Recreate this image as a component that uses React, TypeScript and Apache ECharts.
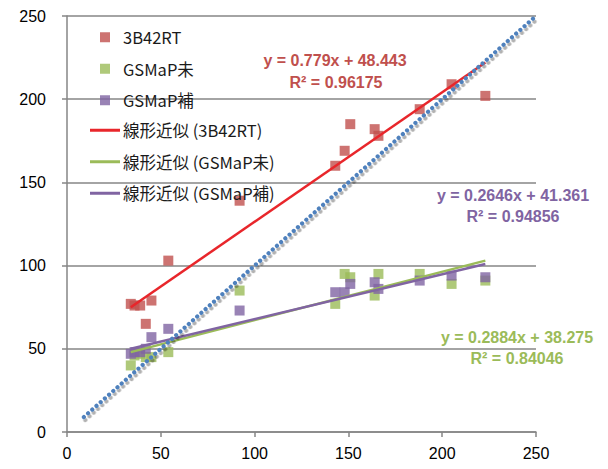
import React, { useEffect, useRef } from "react";
import * as echarts from "echarts";

// observed (x) values shared by all three products
const xObs = [34, 36, 39, 42, 45, 54, 92, 143, 148, 151, 164, 166, 188, 205, 223];
const rt3B42 = [77, 76, 76, 65, 79, 103, 139, 160, 169, 185, 182, 178, 194, 209, 202];
const gsmapMi = [40, 46, 47, 45, 45, 48, 85, 77, 95, 93, 82, 95, 95, 89, 91];
const gsmapHo = [47, 48, 48, 50, 57, 62, 73, 84, 84, 89, 90, 86, 91, 94, 93];

// trendline endpoints
const trendRT = [[34, 75], [223, 222]];
const trendMi = [[34, 48], [223, 103]];
const trendHo = [[34, 50], [223, 101]];
// 1:1 reference line
const identity = [[9, 9], [250, 250]];

const axisTicks = [0, 50, 100, 150, 200, 250];

const seriesNames = ["3B42RT", "GSMaP未", "GSMaP補"];
const trendNames = ["線形近似 (3B42RT)", "線形近似 (GSMaP未)", "線形近似 (GSMaP補)"];

const eqRT = ["y = 0.779x + 48.443", "R² = 0.96175"];
const eqHo = ["y = 0.2646x + 41.361", "R² = 0.94856"];
const eqMi = ["y = 0.2884x + 38.275", "R² = 0.84046"];

const RED = "#C0504D";
const GREEN = "#9BBB59";
const PURPLE = "#8064A2";
const BLUE = "#4F81BD";
const GRAY = "#868686";

const pair = (xs: number[], ys: number[]) => xs.map((x, i) => [x, ys[i]]);

export default function App() {
  const ref = useRef<HTMLDivElement>(null);
  useEffect(() => {
    if (!ref.current) return;
    const chart = echarts.init(ref.current, null, { renderer: "svg" });
    const labelFont = { fontSize: 16, color: "#000", fontFamily: "Liberation Sans" };
    const eqText = (x: number, y: number, text: string, color: string) => ({
      type: "text",
      x,
      y,
      z: 100,
      style: {
        text,
        fill: color,
        fontSize: 16,
        fontWeight: "bold",
        fontFamily: "Liberation Sans",
        align: "center",
        verticalAlign: "middle",
      },
    });
    const legendText = {
      fontSize: 16.5,
      lineHeight: 16,
      color: "#1a1a1a",
      fontFamily: "Noto Sans CJK JP",
    };
    chart.setOption({
      animation: false,
      grid: { left: 67, right: 72, top: 16, bottom: 37 },
      xAxis: {
        type: "value",
        min: axisTicks[0],
        max: axisTicks[axisTicks.length - 1],
        interval: 50,
        splitLine: { show: false },
        axisLine: { lineStyle: { color: GRAY, width: 1.5 } },
        axisTick: { show: true, length: 5, lineStyle: { color: GRAY, width: 1.5 } },
        axisLabel: { ...labelFont, margin: 13 },
      },
      yAxis: {
        type: "value",
        min: axisTicks[0],
        max: axisTicks[axisTicks.length - 1],
        interval: 50,
        splitLine: { show: true, lineStyle: { color: GRAY, width: 1.5 } },
        axisLine: { show: true, lineStyle: { color: GRAY, width: 1.5 } },
        axisTick: { show: true, length: 5, lineStyle: { color: GRAY, width: 1.5 } },
        axisLabel: { ...labelFont, margin: 21 },
      },
      legend: [
        {
          data: seriesNames,
          orient: "vertical",
          left: 100,
          top: 29,
          padding: 0,
          icon: "rect",
          itemWidth: 10,
          itemHeight: 10,
          itemGap: 15,
          selectedMode: false,
          textStyle: { ...legendText, padding: [0, 0, 0, 8] },
        },
        {
          data: trendNames,
          orient: "vertical",
          left: 90,
          top: 122,
          padding: 0,
          icon: "rect",
          itemWidth: 30,
          itemHeight: 3,
          itemGap: 15,
          selectedMode: false,
          textStyle: { ...legendText, padding: [0, 0, 0, -2] },
        },
      ],
      series: [
        {
          name: seriesNames[0],
          type: "scatter",
          symbol: "rect",
          symbolSize: 10,
          itemStyle: { color: RED },
          data: pair(xObs, rt3B42),
          z: 2,
        },
        {
          name: seriesNames[1],
          type: "scatter",
          symbol: "rect",
          symbolSize: 10,
          itemStyle: { color: GREEN },
          data: pair(xObs, gsmapMi),
          z: 2,
        },
        {
          name: seriesNames[2],
          type: "scatter",
          symbol: "rect",
          symbolSize: 10,
          itemStyle: { color: PURPLE },
          data: pair(xObs, gsmapHo),
          z: 2,
        },
        {
          name: trendNames[0],
          type: "line",
          symbol: "none",
          itemStyle: { color: "#E8262B" },
          lineStyle: { color: "#E8262B", width: 2.5 },
          data: trendRT,
          z: 3,
        },
        {
          name: trendNames[1],
          type: "line",
          symbol: "none",
          itemStyle: { color: GREEN },
          lineStyle: { color: GREEN, width: 2.5 },
          data: trendMi,
          z: 3,
        },
        {
          name: trendNames[2],
          type: "line",
          symbol: "none",
          itemStyle: { color: PURPLE },
          lineStyle: { color: PURPLE, width: 2.5 },
          data: trendHo,
          z: 3,
        },
        {
          name: "1:1",
          type: "line",
          symbol: "none",
          lineStyle: {
            color: BLUE,
            width: 4.2,
            type: [0.01, 5.6],
            cap: "round",
            shadowColor: "rgba(0,0,0,0.3)",
            shadowOffsetX: 1.5,
            shadowOffsetY: 3,
            shadowBlur: 1.5,
          },
          data: identity,
          z: 4,
        },
      ],
      graphic: [
        eqText(335, 60, eqRT[0], RED),
        eqText(336, 82, eqRT[1], RED),
        eqText(513, 195, eqHo[0], PURPLE),
        eqText(513, 216, eqHo[1], PURPLE),
        eqText(517, 337, eqMi[0], GREEN),
        eqText(517, 358, eqMi[1], GREEN),
      ],
    });
    return () => chart.dispose();
  }, []);
  return (
    <div
      ref={ref}
      style={{ position: "fixed", left: 0, top: 0, width: 608, height: 469, background: "#fff" }}
    />
  );
}
